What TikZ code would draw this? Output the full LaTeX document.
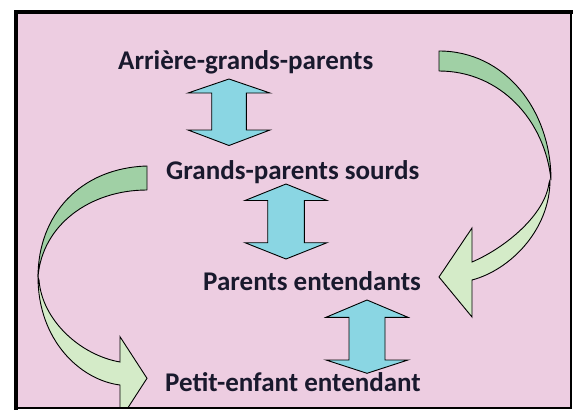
\documentclass[tikz,border=0pt]{standalone}
\usepackage{fontspec}
\setmainfont{Carlito}
\definecolor{bgpink}{RGB}{237,205,225}
\definecolor{arrcyan}{RGB}{138,214,227}
\definecolor{dgreen}{RGB}{160,208,165}
\definecolor{lgreen}{RGB}{212,235,200}
\definecolor{txt}{RGB}{25,25,45}
\newcommand\dblarr[6]{%
  \draw[dbl] (#1,#2) -- ({#1+41},#3) -- ({#1+#6},#3) -- ({#1+#6},#4) -- ({#1+41},#4) -- (#1,#5)
    -- ({#1-41},#4) -- ({#1-#6},#4) -- ({#1-#6},#3) -- ({#1-41},#3) -- cycle;}
\begin{document}
\begin{tikzpicture}[x=1pt,y=-1pt,
  lbl/.style={font=\fontsize{27}{32}\selectfont\bfseries, text=txt, inner sep=0pt, anchor=base west},
  dbl/.style={fill=arrcyan, draw=black, line width=0.9pt, line join=miter},
  darkpart/.style={fill=dgreen, draw=black, line width=0.9pt, line join=round},
  lightpart/.style={fill=lgreen, draw=black, line width=0.9pt, line join=miter},
  framethick/.style={line width=4pt, line cap=rect},
  framethin/.style={line width=2pt}]
\useasboundingbox (0,0) rectangle (574,410);
\fill[white] (0,0) rectangle (574,410);
\fill[bgpink] (16,12) rectangle (571,408);
\begin{scope}
  \clip (16,12) rectangle (571,408);
  % right curved arrow
  \draw[darkpart] (439,51) .. controls (505,51) and (551,110) .. (551,180)
     .. controls (545,120) and (500,71) .. (439,71) -- cycle;
  \draw[lightpart] (550,180) .. controls (550,230) and (510,270) .. (472,280)
     -- (472,317) -- (439,277) -- (472,228) -- (472,262)
     .. controls (505,248) and (545,215) .. (549,183) -- cycle;
  % left curved arrow
  \draw[darkpart] (147,166) .. controls (80,168) and (38,215) .. (38,277)
     .. controls (42,225) and (90,190) .. (147,190) -- cycle;
  \draw[lightpart] (38,277) .. controls (38,340) and (80,380) .. (120,385)
     -- (120,420) -- (147,378.3) -- (120,336.7) -- (120,362)
     .. controls (80,355) and (42,320) .. (39,280) -- cycle;
\end{scope}
% double arrows
\dblarr{229}{79}{93}{130}{145.5}{17.3}
\dblarr{286}{184}{200.5}{242.7}{259}{18.3}
\dblarr{367}{300}{317.3}{360}{373.3}{18}
% labels
\node[lbl] (agp) at (118,69) {Arrière-grands-parents};
\node[lbl] (gps) at (166,179) {Grands-parents sourds};
\node[lbl] (pe) at (203,290) {Parents entendants};
\node[lbl] (pee) at (165,391) {Petit-enfant entendant};
% frame
\coordinate (tl) at (16,12);
\coordinate (tr) at (571,12);
\coordinate (br) at (571,408);
\coordinate (bl) at (16,408);
\draw[framethin] (tr) -- (br) -- (bl);
\draw[framethick] (bl) -- (tl) -- (tr);
\end{tikzpicture}
\end{document}
